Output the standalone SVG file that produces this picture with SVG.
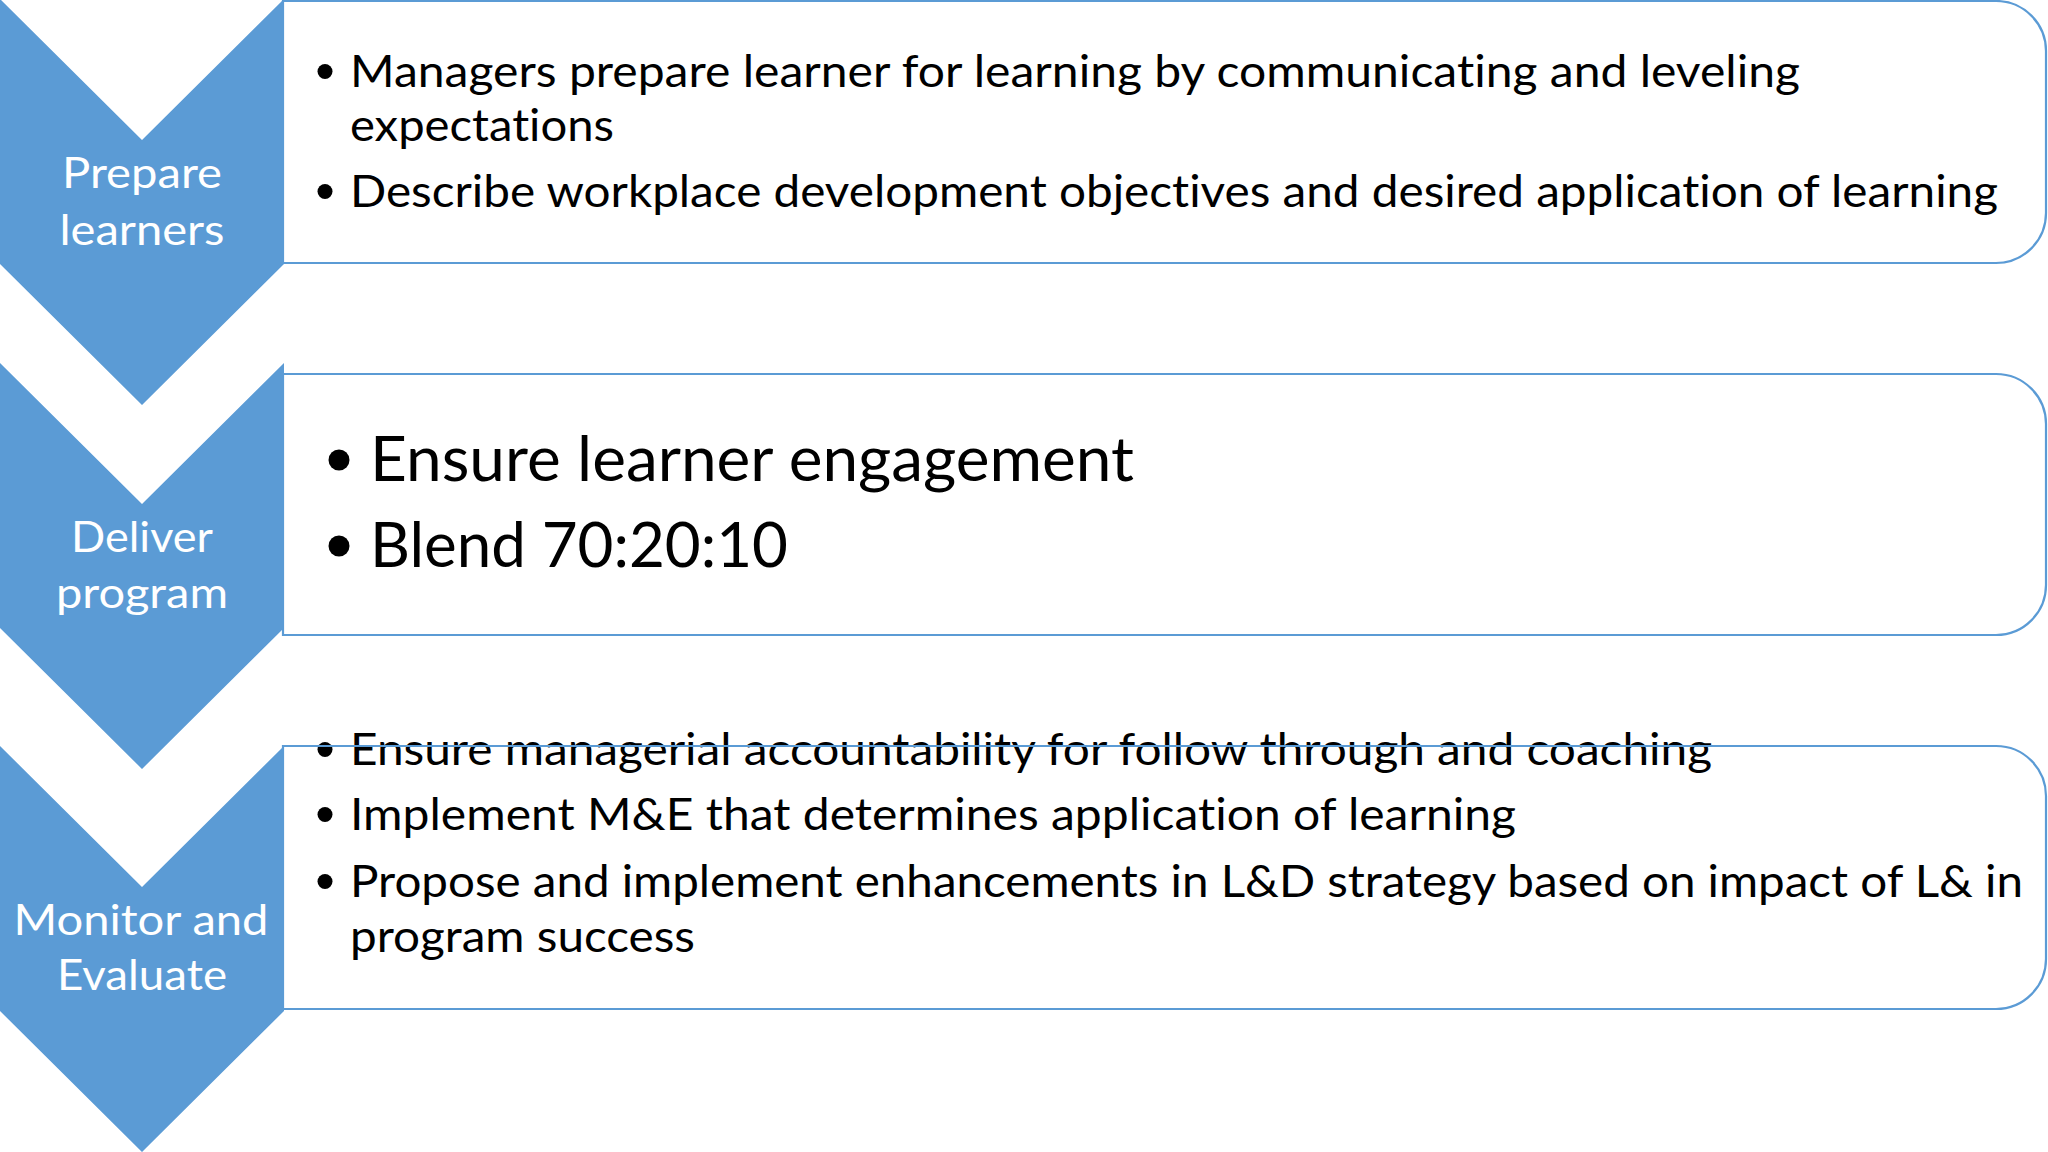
<svg xmlns="http://www.w3.org/2000/svg" width="2048" height="1152" viewBox="0 0 2048 1152">
  <style>
    .chev { fill: #5B9BD5; }
    .boxfill { fill: #FFFFFF; stroke: none; }
    .boxline { fill: none; stroke: #5B9BD5; stroke-width: 2.2; }
    text { font-variant-ligatures: none; font-feature-settings: "liga" 0, "clig" 0; }
    .lbl { font-family: Lato, "Open Sans", "Liberation Sans", sans-serif; fill: #FFFFFF; font-size: 42px; text-anchor: middle; }
    .t { font-family: Lato, "Open Sans", "Liberation Sans", sans-serif; fill: #000000; font-size: 45px; }
    .tb { font-family: Lato, "Open Sans", "Liberation Sans", sans-serif; fill: #000000; font-size: 61px; }
    .dot { fill: #000000; }
  </style>
  <rect x="0" y="0" width="2048" height="1152" fill="#FFFFFF"/>

  <g id="box1">
    <path class="boxfill" d="M283,1 H1996 A50,50 0 0 1 2046,51 V213 A50,50 0 0 1 1996,263 H283 Z"/>
    <circle class="dot" cx="325" cy="71.5" r="7.5"/>
    <text class="t" x="350" y="87" textLength="1450" lengthAdjust="spacingAndGlyphs">Managers prepare learner for learning by communicating and leveling</text>
    <text class="t" x="350" y="141" textLength="264" lengthAdjust="spacingAndGlyphs">expectations</text>
    <circle class="dot" cx="325" cy="191.5" r="7.5"/>
    <text class="t" x="350" y="207" textLength="1648" lengthAdjust="spacingAndGlyphs">Describe workplace development objectives and desired application of learning</text>
    <path class="boxline" d="M283,1 H1996 A50,50 0 0 1 2046,51 V213 A50,50 0 0 1 1996,263 H283 Z"/>
  </g>

  <g id="box2">
    <path class="boxfill" d="M283,374 H1996 A50,50 0 0 1 2046,424 V585 A50,50 0 0 1 1996,635 H283 Z"/>
    <circle class="dot" cx="339" cy="460" r="10.5"/>
    <text class="tb" x="370" y="481" textLength="764" lengthAdjust="spacingAndGlyphs">Ensure learner engagement</text>
    <circle class="dot" cx="339" cy="546" r="10.5"/>
    <text class="tb" x="370" y="567" textLength="418" lengthAdjust="spacingAndGlyphs">Blend 70:20:10</text>
    <path class="boxline" d="M283,374 H1996 A50,50 0 0 1 2046,424 V585 A50,50 0 0 1 1996,635 H283 Z"/>
  </g>

  <g id="box3">
    <path class="boxfill" d="M283,746 H1996 A50,50 0 0 1 2046,796 V959 A50,50 0 0 1 1996,1009 H283 Z"/>
    <circle class="dot" cx="325" cy="749.5" r="7.5"/>
    <text class="t" x="350" y="765" textLength="1362" lengthAdjust="spacingAndGlyphs">Ensure managerial accountability for follow through and coaching</text>
    <circle class="dot" cx="325" cy="814.5" r="7.5"/>
    <text class="t" x="350" y="830" textLength="1166" lengthAdjust="spacingAndGlyphs">Implement M&amp;E that determines application of learning</text>
    <circle class="dot" cx="325" cy="881.5" r="7.5"/>
    <text class="t" x="350" y="897" textLength="1673" lengthAdjust="spacingAndGlyphs">Propose and implement enhancements in L&amp;D strategy based on impact of L&amp; in</text>
    <text class="t" x="350" y="952" textLength="345" lengthAdjust="spacingAndGlyphs">program success</text>
    <path class="boxline" d="M283,746 H1996 A50,50 0 0 1 2046,796 V959 A50,50 0 0 1 1996,1009 H283 Z"/>
  </g>

  <g id="step1">
    <polygon class="chev" points="0,-1 142,140 284,-1 284,264 142,405 0,264"/>
    <text class="lbl" x="142" y="188" textLength="160" lengthAdjust="spacingAndGlyphs">Prepare</text>
    <text class="lbl" x="142" y="245" textLength="165" lengthAdjust="spacingAndGlyphs">learners</text>
  </g>

  <g id="step2">
    <polygon class="chev" points="0,363 142,504 284,363 284,628 142,769 0,628"/>
    <text class="lbl" x="142" y="552" textLength="142" lengthAdjust="spacingAndGlyphs">Deliver</text>
    <text class="lbl" x="142" y="608" textLength="172" lengthAdjust="spacingAndGlyphs">program</text>
  </g>

  <g id="step3">
    <polygon class="chev" points="0,746 142,887 284,746 284,1011 142,1152 0,1011"/>
    <text class="lbl" x="141" y="935" textLength="255" lengthAdjust="spacingAndGlyphs">Monitor and</text>
    <text class="lbl" x="142" y="990" textLength="170" lengthAdjust="spacingAndGlyphs">Evaluate</text>
  </g>

  <g id="connectors"/>
</svg>
